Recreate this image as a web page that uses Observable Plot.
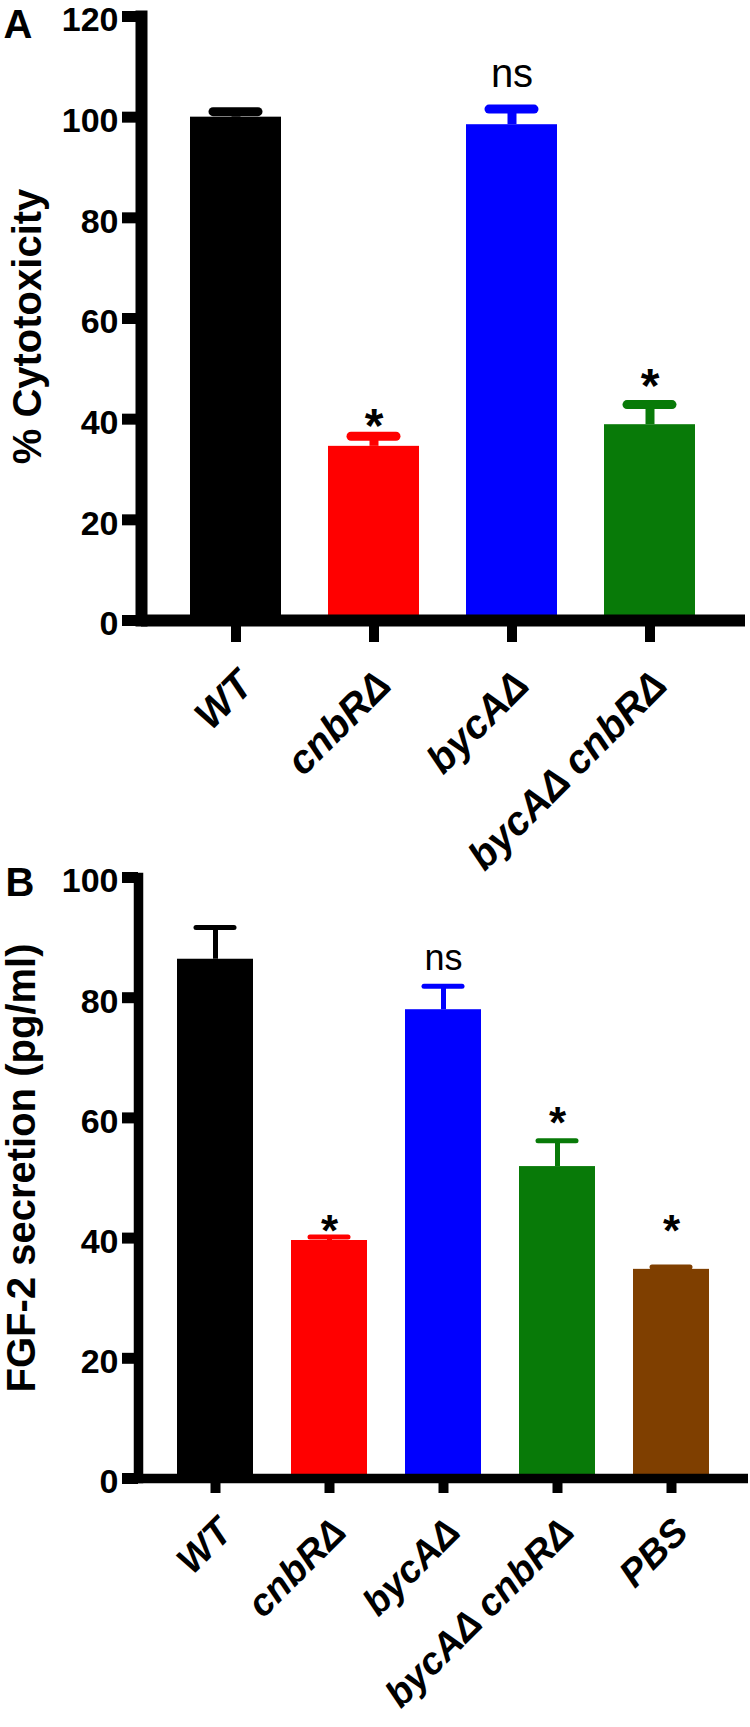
<!DOCTYPE html>
<html>
<head>
<meta charset="utf-8">
<script src="https://cdn.jsdelivr.net/npm/d3@7"></script>
<script src="https://cdn.jsdelivr.net/npm/@observablehq/plot@0.6"></script>
<style>
  html, body { margin: 0; padding: 0; background: white; }
  #wrap { width: 750px; }
  svg { overflow: visible; }
</style>
</head>
<body>
<div id="wrap"><div id="a"></div><div id="b"></div></div>
<script>
// ---------- Panel A data ----------
const catsA = ["WT", "cnbRΔ", "bycAΔ", "bycAΔ cnbRΔ"];
const meanA = [100, 34.6, 98.5, 38.9];
const semA = [1.1, 2.0, 3.1, 4.0];
const colorsA = ["#000000", "#ff0000", "#0000ff", "#087a08"];
const signifA = ["", "*", "ns", "*"];
const signifYA = [null, 40.9, 108.0, 48.9];
const ticksA = [0, 20, 40, 60, 80, 100, 120];
const titleA = "% Cytotoxicity";

// ---------- Panel B data ----------
const catsB = ["WT", "cnbRΔ", "bycAΔ", "bycAΔ cnbRΔ", "PBS"];
const meanB = [86.4, 39.6, 78.0, 51.9, 34.8];
const semB = [5.3, 0.6, 3.9, 4.3, 0.4];
const colorsB = ["#000000", "#ff0000", "#0000ff", "#087a08", "#7f3f00"];
const signifB = ["", "*", "ns", "*", "*"];
const signifYB = [null, 42.8, 86.2, 60.9, 42.8];
const ticksB = [0, 20, 40, 60, 80, 100];
const titleB = "FGF-2 secretion (pg/ml)";

const FONT = "'Liberation Sans', Arial, Helvetica, sans-serif";

function panel(o) {
  const rows = o.cats.map((c, i) => ({cat: c, mean: o.mean[i], hi: o.mean[i] + o.sem[i], sig: o.sig[i], sy: o.sigY[i]}));
  const stars = rows.filter(d => d.sig === "*");
  const ns = rows.filter(d => d.sig === "ns");
  return Plot.plot({
    width: 750,
    height: o.height,
    marginTop: o.mt,
    marginBottom: o.mb,
    marginLeft: o.ml,
    marginRight: o.mr,
    style: {fontFamily: FONT, background: "transparent", overflow: "visible", color: "black"},
    x: {domain: o.cats, paddingInner: o.pi, paddingOuter: o.po, label: null},
    y: {domain: o.ydom, label: null},
    color: {domain: o.cats, range: o.colors},
    marks: [
      Plot.barY(rows, {x: "cat", y: "mean", fill: "cat"}),
      Plot.ruleX(rows, {x: "cat", y1: "mean", y2: "hi", stroke: "cat", strokeWidth: o.ew}),
      Plot.tickY(rows, {x: "cat", y: "hi", stroke: "cat", strokeWidth: o.ew, strokeLinecap: "round", insetLeft: o.capInset, insetRight: o.capInset}),
      Plot.text(stars, {x: "cat", y: "sy", text: "sig", fontSize: o.starSize, fontWeight: "bold", lineAnchor: "bottom", dy: 0.57 * o.starSize, fill: "black"}),
      Plot.text(ns, {x: "cat", y: "sy", text: "sig", fontSize: o.nsSize, lineAnchor: "bottom", dy: 0.26 * o.nsSize, fill: "black"}),
      Plot.ruleY([0], {strokeWidth: o.axisW}),
      Plot.frame({anchor: "left", strokeWidth: o.axisW, strokeLinecap: "square"}),
      // y ticks (marks only) and y tick labels (slightly lowered, as in the reference)
      Plot.axisY({ticks: o.ticks, tickSize: o.yTickSize, strokeWidth: 11, tickFormat: () => "", label: null}),
      Plot.axisY({ticks: o.ticks, tickSize: 0, tickPadding: o.yTickSize + 4, fontSize: 34, fontWeight: "bold", dy: 4, label: null}),
      Plot.axisX({tickSize: o.xTickSize, strokeWidth: 10, tickFormat: () => "", label: null}),
      Plot.text(rows, {x: "cat", frameAnchor: "bottom", text: "cat", rotate: -45, textAnchor: "end", lineAnchor: "middle",
        dx: o.xLabDx, dy: o.xLabDy, fontSize: o.xFont, fontWeight: "bold", fontStyle: "italic", fill: "black"}),
      Plot.text([o.title], {text: d => d, frameAnchor: "left", rotate: -90, textAnchor: "middle", lineAnchor: "bottom", dx: o.titleDx, dy: o.titleDy, fontSize: 40, fontWeight: "bold"}),
      Plot.text([o.letter], {text: d => d, frameAnchor: "top-left", textAnchor: "start", lineAnchor: "bottom", dx: o.letterDx, dy: o.letterDy, fontSize: 40, fontWeight: "bold"})
    ]
  });
}

document.getElementById("a").append(panel({
  cats: catsA, mean: meanA, sem: semA, colors: colorsA, sig: signifA, sigY: signifYA, ticks: ticksA,
  title: titleA, letter: "A", ydom: [0, 120],
  height: 850, mt: 16, mb: 230, ml: 141, mr: 5, pi: 0.338, po: 0.342,
  ew: 9, capInset: 23, starSize: 48, nsSize: 40, axisW: 12, yTickSize: 19, xTickSize: 22, xFont: 40,
  xLabDx: 10, xLabDy: 58,
  titleDx: -101, titleDy: 8, letterDx: -138, letterDy: 21
}));

document.getElementById("b").append(panel({
  cats: catsB, mean: meanB, sem: semB, colors: colorsB, sig: signifB, sigY: signifYB, ticks: ticksB,
  title: titleB, letter: "B", ydom: [0, 100],
  height: 877, mt: 27, mb: 249, ml: 138, mr: 2, pi: 0.336, po: 0.33,
  ew: 5, capInset: 19, starSize: 44, nsSize: 36, axisW: 9.5, yTickSize: 16, xTickSize: 15, xFont: 38,
  xLabDx: 10, xLabDy: 47,
  titleDx: -104, titleDy: -10, letterDx: -133, letterDy: 18
}));
</script>
</body>
</html>
